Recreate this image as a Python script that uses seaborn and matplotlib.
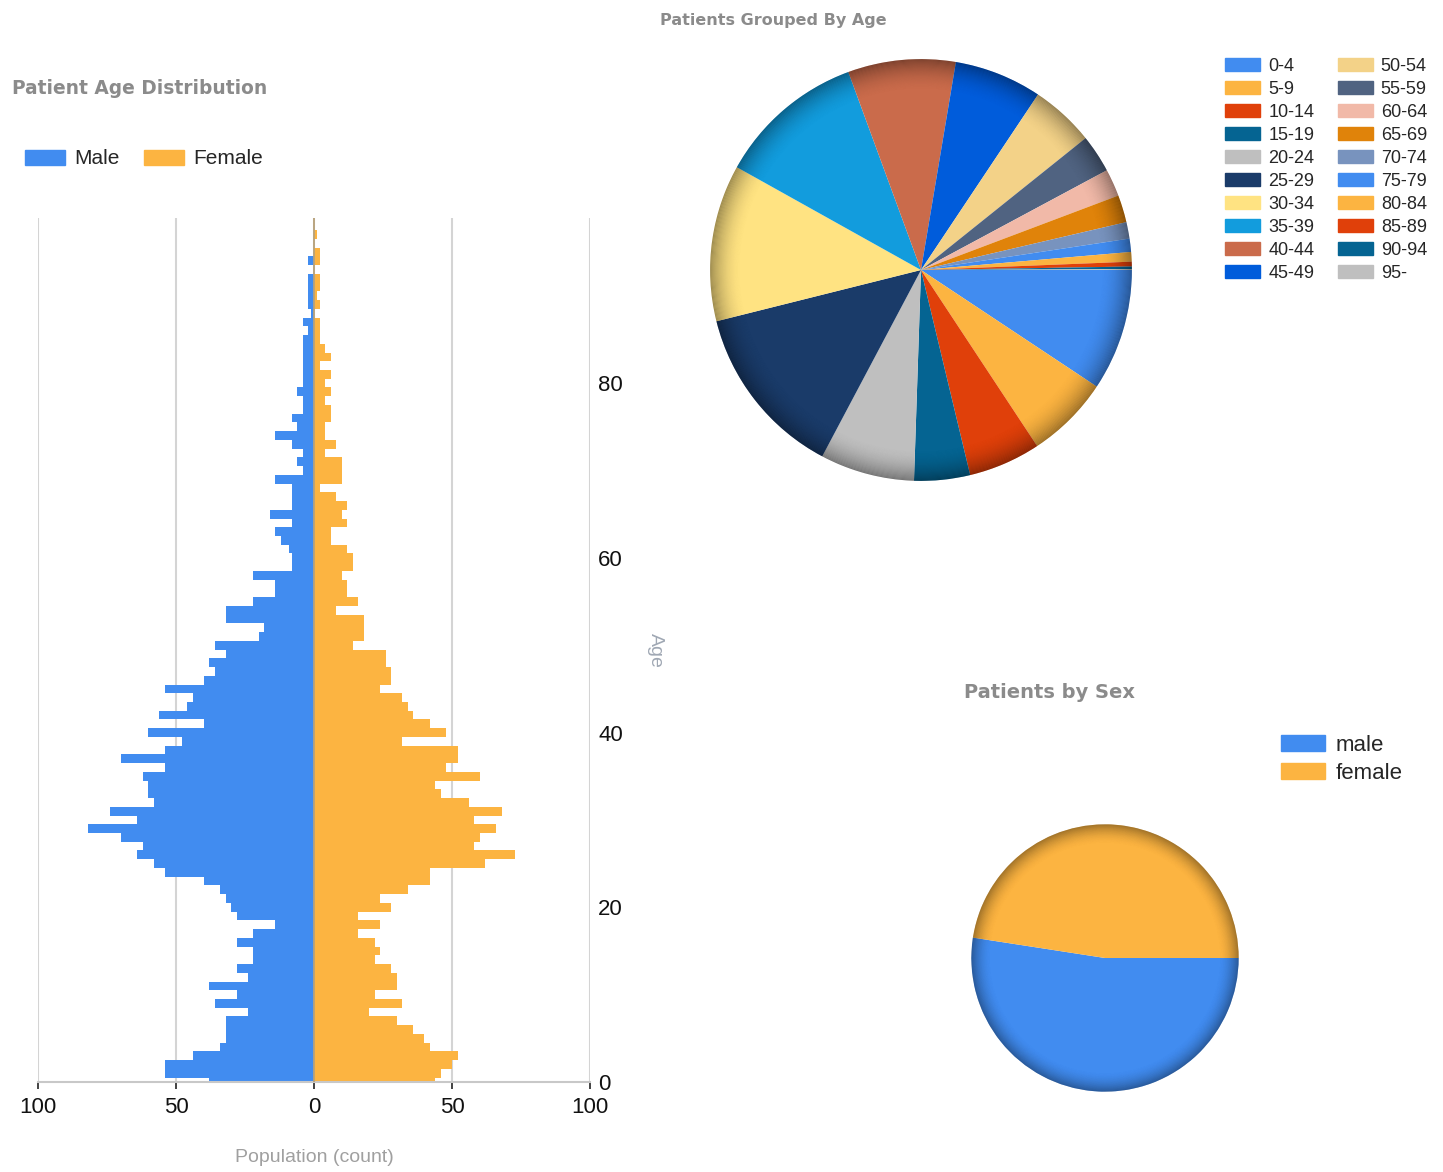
import numpy as np
import pandas as pd
import seaborn as sns
import matplotlib.pyplot as plt
from matplotlib.patches import Patch, Wedge

# Style
sns.set_style("white")
plt.rcParams['font.family'] = ['Liberation Sans', 'DejaVu Sans']

MALE_C = '#418CF0'
FEMALE_C = '#FCB441'
TITLE_C = '#8b8b8b'

# Data: one bar per year of age
ages = list(range(98))
male = [38, 54, 54, 44, 34, 32, 32, 32, 24, 36,
        28, 38, 24, 28, 22, 22, 28, 22, 14, 28,
        30, 32, 34, 40, 54, 58, 64, 62, 70, 82,
        64, 74, 58, 60, 60, 62, 54, 70, 54, 48,
        60, 40, 56, 46, 44, 54, 40, 36, 38, 32,
        36, 20, 18, 32, 32, 22, 14, 14, 22, 8,
        8, 9, 12, 14, 8, 16, 8, 8, 8, 14,
        4, 6, 4, 8, 14, 6, 8, 4, 4, 6,
        4, 4, 4, 4, 4, 4, 2, 4, 1, 2,
        2, 2, 2, 0, 2, 0, 0, 0]
female = [44, 46, 50, 52, 42, 40, 36, 30, 20, 32,
          22, 30, 30, 28, 22, 24, 22, 16, 24, 16,
          28, 24, 34, 42, 42, 62, 73, 58, 60, 66,
          58, 68, 56, 46, 44, 60, 48, 52, 52, 32,
          48, 42, 36, 34, 32, 24, 28, 28, 26, 26,
          14, 18, 18, 18, 8, 16, 12, 12, 10, 14,
          14, 12, 6, 6, 12, 10, 12, 8, 2, 10,
          10, 10, 4, 8, 4, 4, 6, 6, 4, 6,
          4, 6, 2, 6, 4, 2, 2, 2, 0, 2,
          1, 2, 2, 0, 2, 2, 0, 1]

age_groups = ['0-4', '5-9', '10-14', '15-19', '20-24', '25-29', '30-34',
              '35-39', '40-44', '45-49', '50-54', '55-59', '60-64', '65-69',
              '70-74', '75-79', '80-84', '85-89', '90-94', '95-']
group_counts = [458, 314, 272, 210, 355, 655, 590, 555, 405, 330,
                240, 143, 103, 103, 62, 50, 36, 18, 10, 3]

sexes = ['male', 'female']
sex_counts = [2580, 2340]

bright_pastel = ['#418CF0', '#FCB441', '#E0400A', '#056492', '#BFBFBF',
                 '#1A3B69', '#FFE382', '#129CDD', '#CA6B4B', '#005CDB',
                 '#F3D288', '#506381', '#F1B9A8', '#E0830A', '#7893BE']
group_colors = sns.color_palette(bright_pastel + bright_pastel[:5])

df = pd.DataFrame({'age': ages, 'male': male, 'female': female})
df['male_neg'] = -df['male']

W, H = 1443, 1172
fig = plt.figure(figsize=(W / 100, H / 100), dpi=100)


def fig_rect(x0, y0, x1, y1):
    return [x0 / W, 1 - y1 / H, (x1 - x0) / W, (y1 - y0) / H]


# Population pyramid
ax = fig.add_axes(fig_rect(38, 218, 590, 1082))
sns.barplot(data=df, x='male_neg', y='age', orient='y', native_scale=True,
            color=MALE_C, width=1, errorbar=None, linewidth=0, saturation=1, ax=ax)
sns.barplot(data=df, x='female', y='age', orient='y', native_scale=True,
            color=FEMALE_C, width=1, errorbar=None, linewidth=0, saturation=1, ax=ax)
ax.axvline(0, color='#b8a27a', lw=1.3, zorder=3)
ax.set_xlim(-100, 100)
ax.set_ylim(0, 98.9)
ax.set_xticks([-100, -50, 0, 50, 100])
ax.set_xticklabels(['100', '50', '0', '50', '100'])
ax.set_yticks([0, 20, 40, 60, 80])
ax.yaxis.tick_right()
ax.grid(axis='x', color='#d4d4d4', lw=1.5)
ax.set_axisbelow(True)
for s in ['left', 'top', 'right']:
    ax.spines[s].set_visible(False)
ax.spines['bottom'].set_color('#c8c8c8')
ax.spines['bottom'].set_linewidth(1.5)
ax.tick_params(axis='x', length=5, width=1.2, color='#222222', pad=6,
               labelsize=16, labelcolor='#111111', bottom=True)
ax.tick_params(axis='y', length=0, pad=6, labelsize=16, labelcolor='#111111')
ax.set_xlabel('')
ax.set_ylabel('')

fig.text(12 / W, 1 - 89 / H, 'Patient Age Distribution', ha='left', va='center',
         fontsize=13.4, fontweight='bold', color=TITLE_C, family='DejaVu Sans')
fig.text(314 / W, 1 - 1157 / H, 'Population (count)', ha='center', va='center',
         fontsize=14, color='#a0a0a0')
fig.text(655 / W, 1 - 650 / H, 'Age', ha='center', va='center', rotation=270,
         fontsize=14, color='#a0a8b4')

fig.legend(handles=[Patch(color=MALE_C, label='Male'), Patch(color=FEMALE_C, label='Female')],
           loc='center left', bbox_to_anchor=(25 / W, 1 - 159 / H), ncol=2,
           frameon=False, fontsize=15, handlelength=1.9, handleheight=0.72,
           handletextpad=0.45, columnspacing=1.2, borderpad=0, borderaxespad=0)


def soften(pax, r=1.0, depth=0.15, n=30, strength=0.38):
    for k in range(n):
        pax.add_patch(Wedge((0, 0), r - depth * k / n, 0, 360, width=depth / n,
                            facecolor='black', alpha=strength * (1 - k / n) ** 2, lw=0))


# Pie: patients grouped by age
ax1 = fig.add_axes(fig_rect(708, 57, 1134, 483))
ax1.pie(group_counts, colors=group_colors, startangle=0, counterclock=False,
        radius=1, wedgeprops=dict(linewidth=0))
soften(ax1)
ax1.set_xlim(-1.01, 1.01)
ax1.set_ylim(-1.01, 1.01)
ax1.set_aspect('equal')
ax1.axis('off')
fig.text(773 / W, 1 - 20 / H, 'Patients Grouped By Age', ha='center', va='center',
         fontsize=11.5, fontweight='bold', color=TITLE_C, family='DejaVu Sans')
fig.legend(handles=[Patch(color=c, label=l) for c, l in zip(group_colors, age_groups)],
           loc='upper left', bbox_to_anchor=(1225 / W, 1 - 58 / H), ncol=2,
           frameon=False, fontsize=13, handlelength=1.94, handleheight=0.72,
           handletextpad=0.45, columnspacing=1.3, labelspacing=0.33,
           borderpad=0, borderaxespad=0)

# Pie: patients by sex
ax2 = fig.add_axes(fig_rect(970, 823, 1240, 1093))
ax2.pie(sex_counts, colors=[MALE_C, FEMALE_C], startangle=0, counterclock=False,
        radius=1, wedgeprops=dict(linewidth=0))
soften(ax2)
ax2.set_xlim(-1.01, 1.01)
ax2.set_ylim(-1.01, 1.01)
ax2.set_aspect('equal')
ax2.axis('off')
fig.text(1050 / W, 1 - 692 / H, 'Patients by Sex', ha='center', va='center',
         fontsize=14, fontweight='bold', color=TITLE_C, family='DejaVu Sans')
fig.legend(handles=[Patch(color=MALE_C, label='male'), Patch(color=FEMALE_C, label='female')],
           loc='upper left', bbox_to_anchor=(1281 / W, 1 - 735 / H), ncol=1,
           frameon=False, fontsize=16, handlelength=2.0, handleheight=0.75,
           handletextpad=0.45, labelspacing=0.3, borderpad=0, borderaxespad=0)

fig.savefig('out.png', dpi=100, facecolor='white')
